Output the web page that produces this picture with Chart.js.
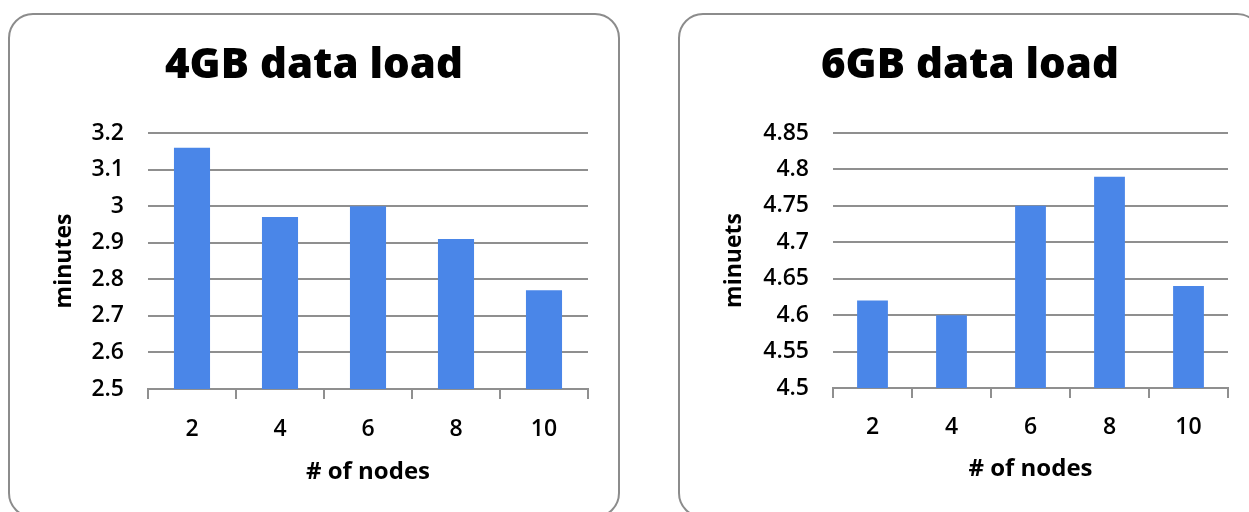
<!DOCTYPE html>
<html><head><meta charset="utf-8">
<script src="https://cdn.jsdelivr.net/npm/chart.js@4.4.1/dist/chart.umd.min.js"></script>
<style>
html,body{margin:0;padding:0;background:#fff;width:1249px;height:512px;overflow:hidden;position:relative}
.panel{position:absolute;border:2px solid #8c8c8c;border-radius:25px;box-sizing:border-box}
canvas{position:absolute}
</style></head><body>
<div class="panel" style="left:8px;top:13px;width:612px;height:505px"></div>
<div class="panel" style="left:678px;top:13px;width:584px;height:505px"></div>
<canvas id="c1" width="612" height="505" style="left:8px;top:13px;width:612px;height:505px"></canvas>
<canvas id="c2" width="584" height="505" style="left:678px;top:13px;width:584px;height:505px"></canvas>
<script>
const nodes = ['2', '4', '6', '8', '10'];
const load4GB = [3.16, 2.97, 3.00, 2.91, 2.77];
const load6GB = [4.62, 4.60, 4.75, 4.79, 4.64];
const ticks4GB = [2.5, 2.6, 2.7, 2.8, 2.9, 3.0, 3.1, 3.2];
const tickLabels4GB = ['2.5', '2.6', '2.7', '2.8', '2.9', '3', '3.1', '3.2'];
const ticks6GB = [4.5, 4.55, 4.6, 4.65, 4.7, 4.75, 4.8, 4.85];
const tickLabels6GB = ['4.5', '4.55', '4.6', '4.65', '4.7', '4.75', '4.8', '4.85'];
const title4GB = '4GB data load';
const title6GB = '6GB data load';
const yTitle4GB = 'minutes';
const yTitle6GB = 'minuets';
const xTitle = '# of nodes';

const barColor = '#4a86e8';
const gridColor = '#8f8f8f';
Chart.defaults.font.family = "'Open Sans', 'DejaVu Sans', sans-serif";

function makeChart(id, o) {
  return new Chart(document.getElementById(id), {
    type: 'bar',
    data: {
      labels: nodes,
      datasets: [{ data: o.values, backgroundColor: barColor, borderWidth: 0, categoryPercentage: 1, barPercentage: o.barPct }]
    },
    options: {
      responsive: false,
      animation: false,
      layout: { padding: { left: o.side, right: o.side, top: 0, bottom: 0 } },
      plugins: {
        legend: { display: false },
        tooltip: { enabled: false },
        title: { display: true, text: o.title, font: { size: 42, weight: '800' }, color: '#000', padding: { top: 27.8, bottom: 41.8 } }
      },
      scales: {
        x: {
          grid: { drawOnChartArea: false, drawTicks: true, tickLength: 10, offset: true, color: gridColor, lineWidth: 2 },
          border: { display: true, color: gridColor, width: 2 },
          ticks: { font: { size: 23, weight: '600' }, color: '#000', padding: o.xPad },
          title: { display: true, text: xTitle, font: { size: 24, weight: 'bold' }, color: '#000', padding: { top: 0, bottom: o.xTitlePad } },
          afterFit: s => { s.height = o.xHeight; }
        },
        y: {
          min: o.tickValues[0],
          max: o.tickValues[o.tickValues.length - 1],
          afterBuildTicks: s => { s.ticks = o.tickValues.map(v => ({ value: v })); },
          ticks: { callback: (v, i) => o.tickLabels[i], font: { size: 23, weight: '600' }, color: '#000', padding: 24 },
          grid: { color: gridColor, lineWidth: 2, drawTicks: false },
          border: { display: false },
          title: { display: true, text: o.yTitle, font: { size: 23, weight: 'bold' }, color: '#000', padding: { top: o.yTitlePad, bottom: 0 } },
          afterFit: s => { s.width = o.yWidth; }
        }
      }
    }
  });
}

makeChart('c1', {
  values: load4GB, tickValues: ticks4GB, tickLabels: tickLabels4GB, title: title4GB, yTitle: yTitle4GB,
  barPct: 0.41, side: 32, yWidth: 108, yTitlePad: 10.2, xHeight: 129, xPad: 16.2, xTitlePad: 31.6
});
makeChart('c2', {
  values: load6GB, tickValues: ticks6GB, tickLabels: tickLabels6GB, title: title6GB, yTitle: yTitle6GB,
  barPct: 0.39, side: 34, yWidth: 121, yTitlePad: 8.2, xHeight: 130, xPad: 15.2, xTitlePad: 34.6
});
</script>
</body></html>
